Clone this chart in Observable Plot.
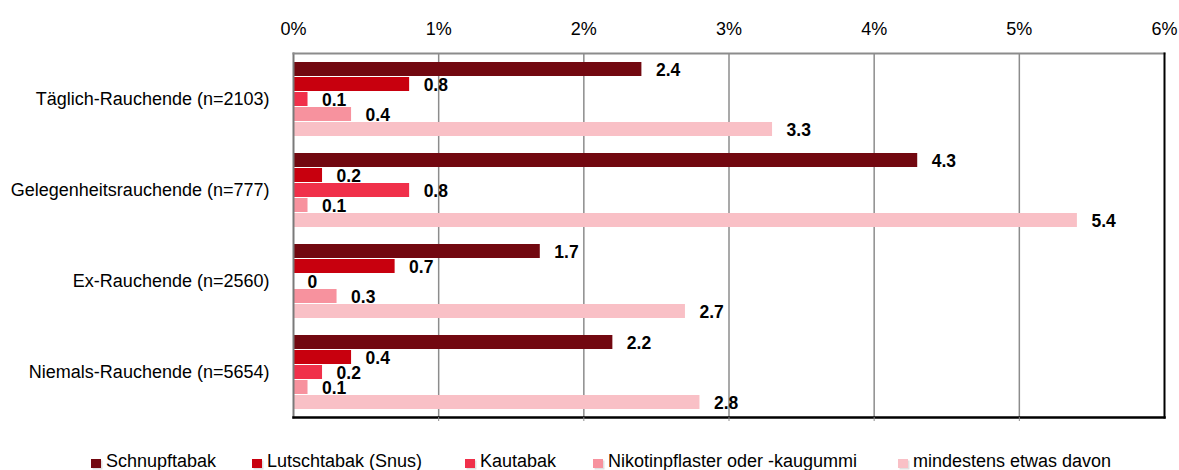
<!DOCTYPE html>
<html>
<head>
<meta charset="utf-8">
<script src="https://cdn.jsdelivr.net/npm/d3@7"></script>
<script src="https://cdn.jsdelivr.net/npm/@observablehq/plot@0.6"></script>
<style>
  html, body { margin: 0; padding: 0; background: #fff; }
  body { position: relative; width: 1179px; height: 470px; overflow: hidden;
         font-family: "Liberation Sans", Arial, sans-serif; }
  #legend { position: absolute; top: 451px; left: 0; width: 1179px; height: 21px;
            font-size: 18px; color: #000; }
  #legend .item { position: absolute; top: 0; white-space: nowrap; display: flex; align-items: center; }
  #legend .sw { display: inline-block; width: 10px; height: 9px; margin-right: 5px; margin-top: 3px;
                box-shadow: 1.5px 1.5px 0 rgba(0,0,0,0.12); }
</style>
</head>
<body>
<div id="chart"></div>
<div id="legend"></div>
<script>
const groups = [
  "Täglich-Rauchende (n=2103)",
  "Gelegenheitsrauchende (n=777)",
  "Ex-Rauchende (n=2560)",
  "Niemals-Rauchende (n=5654)"
];
const series = [
  "Schnupftabak",
  "Lutschtabak (Snus)",
  "Kautabak",
  "Nikotinpflaster oder -kaugummi",
  "mindestens etwas davon"
];
const schnupftabak = [2.4, 4.3, 1.7, 2.2];
const lutschtabak  = [0.8, 0.2, 0.7, 0.4];
const kautabak     = [0.1, 0.8, 0, 0.2];
const nikotin      = [0.4, 0.1, 0.3, 0.1];
const mindestens   = [3.3, 5.4, 2.7, 2.8];
const xTicks = [0, 1, 2, 3, 4, 5, 6];
const colors = ["#720810", "#c8000e", "#f0304a", "#f7929e", "#f9c0c6"];
const legendLeft = [91, 252, 465, 593, 898];

const seriesValues = [schnupftabak, lutschtabak, kautabak, nikotin, mindestens];
const data = [];
groups.forEach((g, gi) => {
  series.forEach((s, si) => {
    data.push({group: g, series: s, value: seriesValues[si][gi]});
  });
});

const chart = Plot.plot({
  width: 1179,
  height: 432,
  marginLeft: 293,
  marginRight: 15,
  marginTop: 52,
  marginBottom: 15,
  style: {
    fontFamily: '"Liberation Sans", Arial, sans-serif',
    fontSize: "18px",
    color: "#000",
    background: "#fff"
  },
  x: {domain: [0, 6], axis: null},
  fy: {domain: groups, padding: 0, axis: null},
  y: {domain: series, paddingInner: 0.1, paddingOuter: 0.4, axis: null},
  color: {domain: series, range: colors},
  marks: [
    Plot.gridX(xTicks.slice(1, -1), {stroke: "#8c8c8c", strokeOpacity: 1, strokeWidth: 1.5}),
    Plot.barX(data, {fy: "group", y: "series", x: "value", fill: "series"}),
    Plot.text(data, {
      fy: "group", y: "series", x: "value", text: d => String(d.value),
      textAnchor: "start", dx: 14, dy: 1, fontWeight: "bold", fontSize: 17.5, fill: "#000"
    }),
    Plot.frame({anchor: "left", stroke: "#7a7a7a", strokeWidth: 2, facet: "super"}),
    Plot.frame({anchor: "top", stroke: "#8c8c8c", strokeWidth: 2, facet: "super"}),
    Plot.frame({anchor: "right", stroke: "#000", strokeWidth: 2, facet: "super"}),
    Plot.frame({anchor: "bottom", stroke: "#000", strokeWidth: 2.5, facet: "super"}),
    Plot.axisX(xTicks, {anchor: "top", tickSize: 0, tickPadding: 19, tickFormat: d => d + "%", fontSize: 18, label: null}),
    Plot.axisX(xTicks.slice(1, -1), {anchor: "bottom", tickSize: 4, tickFormat: () => "", stroke: "#8c8c8c", label: null}),
    Plot.axisFy({anchor: "left", tickSize: 0, tickPadding: 24, label: null, fontSize: 18})
  ]
});
document.getElementById("chart").appendChild(chart);

const legend = document.getElementById("legend");
series.forEach((s, i) => {
  const item = document.createElement("div");
  item.className = "item";
  item.style.left = legendLeft[i] + "px";
  const sw = document.createElement("span");
  sw.className = "sw";
  sw.style.background = colors[i];
  const label = document.createElement("span");
  label.textContent = s;
  item.appendChild(sw);
  item.appendChild(label);
  legend.appendChild(item);
});
</script>
</body>
</html>
